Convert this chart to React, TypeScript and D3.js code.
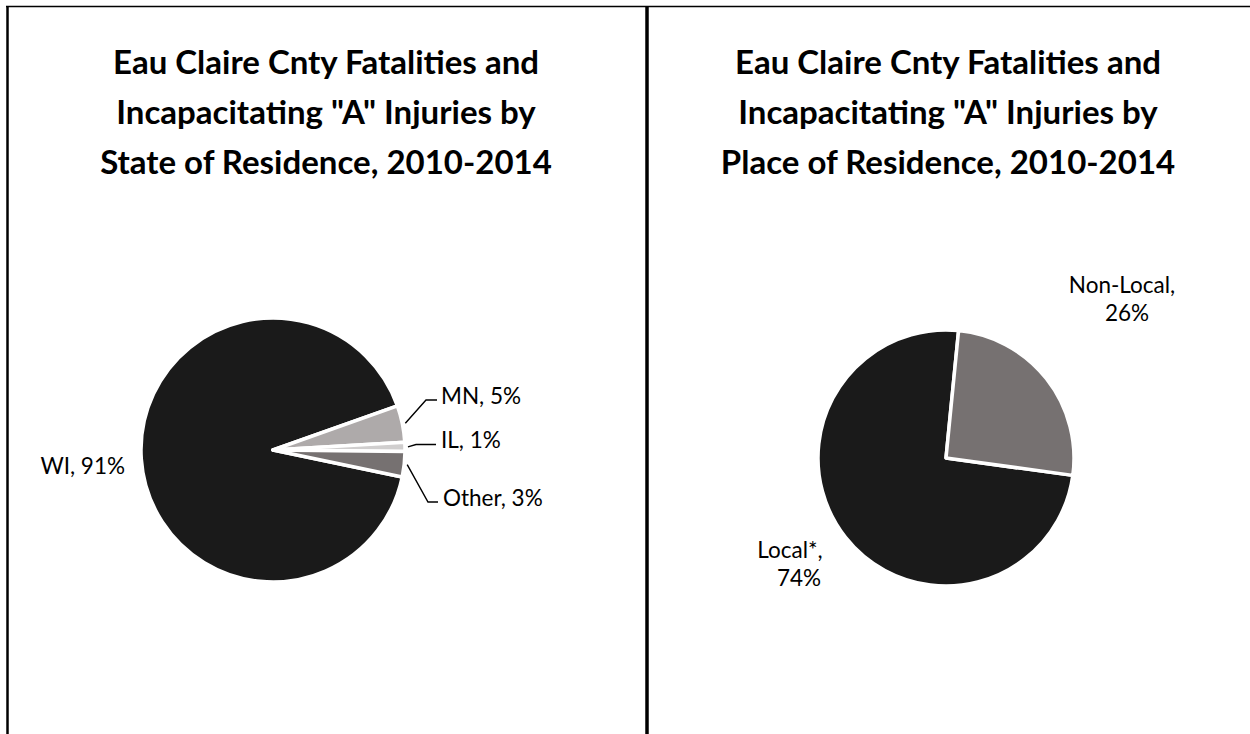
import React from 'react';
import * as d3 from 'd3';

// ---- data ----
const stateCategories = ['WI', 'MN', 'IL', 'Other'];
const stateValues = [91.3, 4.5, 1.1, 3.1];
const stateColors = ['#1a1a1a', '#aeaaaa', '#d0cece', '#767171'];

const placeCategories = ['Local*', 'Non-Local'];
const placeValues = [74.4, 25.6];
const placeColors = ['#1a1a1a', '#767171'];

const titleLeft = ['Eau Claire Cnty Fatalities and', 'Incapacitating "A" Injuries by', 'State of Residence, 2010-2014'];
const titleRight = ['Eau Claire Cnty Fatalities and', 'Incapacitating "A" Injuries by', 'Place of Residence, 2010-2014'];

const W = 1250;
const H = 734;
const deg = Math.PI / 180;
const pct = (v: number) => `${Math.round(v)}%`;

const titleFont = "Lato, 'Open Sans', sans-serif";
const labelFont = "Lato, 'Open Sans', sans-serif";

function Title({ lines, cx }: { lines: string[]; cx: number }) {
  return (
    <g>
      {lines.map((t, i) => (
        <text key={i} x={cx} y={74 + i * 50} textAnchor="middle" fontFamily={titleFont}
          fontWeight={700} fontSize={33} fill="#000">{t}</text>
      ))}
    </g>
  );
}

export default function App() {
  // left pie
  const lcx = 273, lcy = 450, lr = 132;
  const leftPie = d3.pie<number>().sort(null).value(d => d)
    .startAngle(101.8 * deg).endAngle(101.8 * deg + 2 * Math.PI)(stateValues);
  const leftArc = d3.arc<d3.PieArcDatum<number>>().innerRadius(0).outerRadius(lr);

  // right pie
  const rcx = 946, rcy = 458, rr = 128;
  const rightPie = d3.pie<number>().sort(null).value(d => d)
    .startAngle(97.8 * deg).endAngle(97.8 * deg + 2 * Math.PI)(placeValues);
  const rightArc = d3.arc<d3.PieArcDatum<number>>().innerRadius(0).outerRadius(rr);

  const edgePt = (a: d3.PieArcDatum<number>, cx: number, cy: number, r: number) => {
    const m = (a.startAngle + a.endAngle) / 2;
    return [cx + r * Math.sin(m), cy - r * Math.cos(m)];
  };

  const leaderLayout: Record<string, { elbow: [number, number]; end: number; tx: number; ty: number }> = {
    MN: { elbow: [426, 400], end: 437, tx: 441, ty: 404 },
    IL: { elbow: [416, 444.5], end: 436, tx: 441, ty: 448 },
    Other: { elbow: [428, 502], end: 438, tx: 443, ty: 506 },
  };

  return (
    <svg width={W} height={H} style={{ position: 'absolute', left: 0, top: 0, background: '#fff' }}>
      <rect x={0} y={0} width={W} height={H} fill="#fff" />
      {/* frame */}
      <line x1={6} x2={W} y1={6.5} y2={6.5} stroke="#000" strokeWidth={1.5} />
      <line x1={7.5} x2={7.5} y1={6} y2={H} stroke="#000" strokeWidth={2.5} />
      <line x1={647} x2={647} y1={6} y2={H} stroke="#000" strokeWidth={3.5} />

      <Title lines={titleLeft} cx={326} />
      <Title lines={titleRight} cx={948} />

      {/* left pie */}
      <g transform={`translate(${lcx},${lcy})`}>
        {leftPie.map((a, i) => (
          <path key={i} d={leftArc(a) || ''} fill={stateColors[i]} stroke="#fff" strokeWidth={3.5} strokeLinejoin="round" />
        ))}
      </g>
      {leftPie.map((a, i) => {
        const name = stateCategories[i];
        const L = leaderLayout[name];
        if (!L) {
          return (
            <text key={i} x={125} y={474} textAnchor="end" fontFamily={labelFont} fontSize={22.5} fill="#000">
              {`${name}, ${pct(stateValues[i])}`}
            </text>
          );
        }
        const [sx, sy] = edgePt(a, lcx, lcy, lr + 3);
        return (
          <g key={i}>
            <polyline points={`${sx},${sy} ${L.elbow[0]},${L.elbow[1]} ${L.end},${L.elbow[1]}`}
              fill="none" stroke="#000" strokeWidth={1.4} />
            <text x={L.tx} y={L.ty} fontFamily={labelFont} fontSize={22.5} fill="#000">
              {`${name}, ${pct(stateValues[i])}`}
            </text>
          </g>
        );
      })}

      {/* right pie */}
      <g transform={`translate(${rcx},${rcy})`}>
        {rightPie.map((a, i) => (
          <path key={i} d={rightArc(a) || ''} fill={placeColors[i]} stroke="#fff" strokeWidth={3.5} strokeLinejoin="round" />
        ))}
      </g>
      {/* right labels */}
      <g fontFamily={labelFont} fontSize={22.5} fill="#000" textAnchor="middle">
        <text x={790} y={558}>{`${placeCategories[0]},`}</text>
        <text x={799} y={586}>{pct(placeValues[0])}</text>
        <text x={1122} y={293}>{`${placeCategories[1]},`}</text>
        <text x={1127} y={321}>{pct(placeValues[1])}</text>
      </g>
    </svg>
  );
}
